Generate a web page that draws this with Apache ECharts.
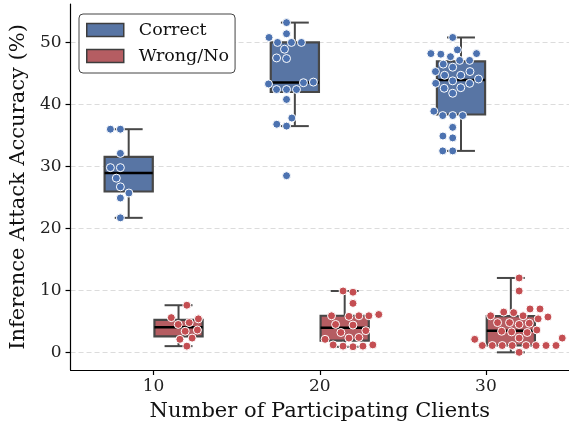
<!DOCTYPE html>
<html><head><meta charset="utf-8">
<script src="https://cdn.jsdelivr.net/npm/echarts@6/dist/echarts.min.js"></script>
<style>html,body{margin:0;padding:0;background:#fff}#c{width:569px;height:428px}</style>
</head><body><div id="c"></div>
<script>
// ---------- data ----------
const categories = ['10', '20', '30'];
const seriesNames = ['Correct', 'Wrong/No'];
const yTicks = [0, 10, 20, 30, 40, 50];

const correct10 = [36.0, 36.0, 32.1, 29.8, 29.8, 28.1, 26.7, 25.7, 24.9, 21.7];
const correct20 = [53.2, 51.4, 50.8, 50.0, 50.0, 50.0, 48.9, 47.5, 47.4, 43.3, 43.5, 43.6,
                   42.4, 42.4, 42.4, 40.8, 37.8, 36.8, 36.5, 28.5];
const correct30 = [50.8, 48.8, 48.2, 48.1, 48.2, 47.7, 47.1, 47.1, 46.5, 46.0, 45.3, 45.3,
                   44.7, 44.7, 44.1, 43.8, 43.4, 43.4, 42.7, 42.6, 41.8, 38.9, 38.2, 38.2,
                   38.2, 36.3, 34.9, 34.6, 32.5, 32.5];
const wrong10 = [7.6, 5.6, 5.4, 4.8, 4.5, 3.6, 3.4, 2.3, 2.1, 1.0];
const wrong20 = [9.9, 9.7, 7.9, 6.1, 5.9, 5.8, 5.9, 5.9, 4.4, 4.5, 3.5, 3.2, 2.4, 2.1, 2.3,
                 1.2, 1.0, 0.9, 1.0, 1.2];
const wrong30 = [12.0, 9.9, 7.0, 7.0, 6.5, 6.4, 5.9, 5.4, 5.7, 5.9, 4.8, 4.7, 4.8, 4.5, 3.6,
                 3.4, 3.2, 3.3, 2.3, 2.1, 2.3, 1.1, 1.1, 1.1, 1.1, 1.1, 1.1, 1.1, 1.1, 0.0];

const groups = [
  [correct10, correct20, correct30],
  [wrong10, wrong20, wrong30]
];

// ---------- style ----------
const boxFill = ['#5875a4', '#b55d62'];
const pointColor = ['#4c72b0', '#c44e52'];
const lineColor = '#474747';
const FONT = 'DejaVu Serif';
const boxOffset = [-0.15, 0.15];
const swarmOffset = [-0.2, 0.2];
const boxHalf = 0.145;
const capHalf = 0.084;
const R = 4.75; // swarm radius in px

// ---------- helpers ----------
function quantile(sorted, p) {
  const pos = (sorted.length - 1) * p;
  const lo = Math.floor(pos), hi = Math.ceil(pos);
  return sorted[lo] + (sorted[hi] - sorted[lo]) * (pos - lo);
}
function boxStats(arr) {
  const s = arr.slice().sort((a, b) => a - b);
  const q1 = quantile(s, 0.25), q2 = quantile(s, 0.5), q3 = quantile(s, 0.75);
  const iqr = q3 - q1;
  const lo = Math.min(...s.filter(v => v >= q1 - 1.5 * iqr));
  const hi = Math.max(...s.filter(v => v <= q3 + 1.5 * iqr));
  return [lo, q1, q2, q3, hi];
}

function beeswarm(pts, r) {
  const d = 2 * r;
  const swarm = [];
  const mid = pts.length ? pts[0].x : 0;
  pts.forEach((p, k) => {
    if (k === 0) { swarm.push({x: p.x, y: p.y, v: p.v}); return; }
    const neighbors = [];
    for (let j = swarm.length - 1; j >= 0; j--) {
      if (p.y - swarm[j].y < d) neighbors.unshift(swarm[j]); else break;
    }
    let cands = [{x: p.x, y: p.y}];
    let leftFirst = true;
    neighbors.forEach(n => {
      const dy = p.y - n.y;
      const dx = Math.sqrt(Math.max(d * d - dy * dy, 0)) * 1.05;
      const cl = {x: n.x - dx, y: p.y}, cr = {x: n.x + dx, y: p.y};
      if (leftFirst) cands.push(cl, cr); else cands.push(cr, cl);
      leftFirst = !leftFirst;
    });
    cands = cands.map((c, idx) => ({c, idx, off: Math.abs(c.x - mid)}))
      .sort((a, b) => (a.off - b.off) || (a.idx - b.idx)).map(o => o.c);
    let chosen = cands[0];
    if (neighbors.length) {
      for (const c of cands) {
        if (neighbors.every(n => (n.x - c.x) ** 2 + (n.y - c.y) ** 2 >= d * d - 1e-9)) { chosen = c; break; }
      }
    }
    swarm.push({x: chosen.x, y: p.y, v: p.v});
  });
  return swarm;
}

// ---------- chart ----------
const chart = echarts.init(document.getElementById('c'), null, {renderer: 'canvas'});

function boxSeries(h) {
  const data = groups[h].map((arr, ci) => [ci + boxOffset[h]].concat(boxStats(arr)));
  return {
    type: 'custom', name: seriesNames[h], z: 2,
    itemStyle: {color: boxFill[h]},
    encode: {x: 0, y: [1, 2, 3, 4, 5]},
    data: data,
    renderItem: function (params, api) {
      const x = api.value(0);
      const lo = api.value(1), q1 = api.value(2), md = api.value(3), q3 = api.value(4), hi = api.value(5);
      const pL = api.coord([x - boxHalf, q3]);
      const pR = api.coord([x + boxHalf, q1]);
      const c = (xx, yy) => api.coord([xx, yy]);
      const ln = (a, b, w, col) => ({type: 'line', shape: {x1: a[0], y1: a[1], x2: b[0], y2: b[1]},
        style: {stroke: col, lineWidth: w}});
      return {type: 'group', children: [
        ln(c(x, q3), c(x, hi), 2, lineColor),
        ln(c(x, q1), c(x, lo), 2, lineColor),
        ln(c(x - capHalf, hi), c(x + capHalf, hi), 2, lineColor),
        ln(c(x - capHalf, lo), c(x + capHalf, lo), 2, lineColor),
        {type: 'rect', shape: {x: pL[0], y: pL[1], width: pR[0] - pL[0], height: pR[1] - pL[1]},
         style: {fill: boxFill[h], stroke: lineColor, lineWidth: 2.2}},
        ln(c(x - boxHalf, md), c(x + boxHalf, md), 2.5, '#000')
      ]};
    }
  };
}

const baseOption = {
  animation: false,
  backgroundColor: '#fff',
  grid: {left: 70, right: -1, top: 4, bottom: 58, containLabel: false},
  xAxis: {
    type: 'value', min: -0.5, max: 2.5,
    axisLine: {show: true, onZero: false, lineStyle: {color: '#000', width: 1.2}},
    axisTick: {show: true, length: 5, customValues: [0, 1, 2], lineStyle: {color: '#000', width: 1.2}},
    axisLabel: {customValues: [0, 1, 2], formatter: v => categories[Math.round(v)],
      fontFamily: FONT, fontSize: 17, color: '#222', margin: 8},
    splitLine: {show: false},
    name: 'Number of Participating Clients', nameLocation: 'middle', nameGap: 31,
    nameTextStyle: {fontFamily: FONT, fontSize: 21, color: '#111'}
  },
  yAxis: {
    type: 'value', min: -2.85, max: 56.2,
    axisLine: {show: true, onZero: false, lineStyle: {color: '#000', width: 1.2}},
    axisTick: {show: true, length: 5, customValues: yTicks, lineStyle: {color: '#000', width: 1.2}},
    axisLabel: {customValues: yTicks, fontFamily: FONT, fontSize: 17, color: '#222', margin: 9},
    splitLine: {show: true, lineStyle: {color: '#dcdcdc', type: [5, 3], width: 1}},
    name: 'Inference Attack Accuracy (%)', nameLocation: 'middle', nameGap: 40,
    nameTextStyle: {fontFamily: FONT, fontSize: 21, color: '#111'}
  },
  legend: {
    left: 79, top: 14, orient: 'vertical',
    padding: [6, 6, 7, 7], itemGap: 6, itemWidth: 37, itemHeight: 13,
    backgroundColor: '#fff', borderColor: '#444', borderWidth: 1, borderRadius: 4,
    textStyle: {fontFamily: FONT, fontSize: 17.5, color: '#111', padding: [0, 0, 0, 10], lineHeight: 20},
    data: seriesNames.map((n, h) => ({name: n, icon: 'rect',
      itemStyle: {color: boxFill[h], borderColor: '#3d3d3d', borderWidth: 1.5}}))
  },
  series: [boxSeries(0), boxSeries(1)]
};
chart.setOption(baseOption);

// swarm layout computed in pixel space via the chart's own scales
const scatterSeries = [];
for (let h = 0; h < 2; h++) {
  const data = [];
  groups[h].forEach((arr, ci) => {
    const cx = ci + swarmOffset[h];
    const pts = arr.map(v => {
      const p = chart.convertToPixel({xAxisIndex: 0, yAxisIndex: 0}, [cx, v]);
      return {x: p[0], y: -p[1], v: v};
    }).sort((a, b) => a.y - b.y);
    beeswarm(pts, R).forEach(s => {
      const dx = chart.convertFromPixel({xAxisIndex: 0, yAxisIndex: 0}, [s.x, -s.y])[0];
      data.push([dx, s.v]);
    });
  });
  scatterSeries.push({
    type: 'scatter', name: seriesNames[h], z: 5, symbol: 'circle', symbolSize: 8,
    itemStyle: {color: pointColor[h], borderColor: '#fff', borderWidth: 1, opacity: 1},
    data: data
  });
}
chart.setOption({series: [boxSeries(0), boxSeries(1)].concat(scatterSeries)});
</script>
</body></html>
